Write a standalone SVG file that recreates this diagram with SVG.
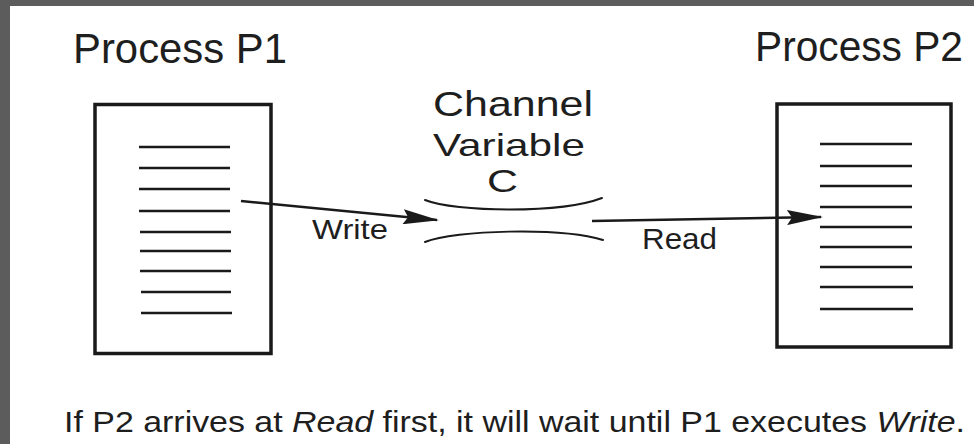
<svg xmlns="http://www.w3.org/2000/svg" width="974" height="444" viewBox="0 0 974 444">
  <defs>
    <style>
      .lbl { font-family: "Liberation Sans", Arial, Helvetica, sans-serif; fill: #1e1e1e; }
      .box { fill: #ffffff; stroke: #1a1a1a; stroke-width: 3.5; }
      .code { stroke: #1a1a1a; stroke-width: 2.4; fill: none; }
      .conn { stroke: #1a1a1a; stroke-width: 2.4; fill: none; }
      .pipe { stroke: #1a1a1a; stroke-width: 2; fill: none; stroke-linecap: round; }
    </style>
    <marker id="head" viewBox="0 0 36 15" refX="34" refY="7.5" markerWidth="36" markerHeight="15" markerUnits="userSpaceOnUse" orient="auto">
      <path d="M0,0 L36,7.5 L0,15 L5,7.5 Z" fill="#1a1a1a"/>
    </marker>
  </defs>

  <!-- frame -->
  <rect x="0" y="0" width="974" height="444" fill="#5c5c5c"/>
  <rect x="10" y="6" width="964" height="438" fill="#ffffff"/>

  <!-- process P1 -->
  <g id="process-p1">
    <text class="lbl" x="73" y="63" font-size="42" textLength="214" lengthAdjust="spacingAndGlyphs">Process P1</text>
    <rect class="box" x="95" y="104.5" width="176" height="249"/>
    <path class="code" d="M139,147H230 M139,168H230 M139,189H230 M139,211H230 M140,232H231 M140,251H231 M140,271H231 M141,292H231 M141,313H232"/>
  </g>

  <!-- channel variable C -->
  <g id="channel-c">
    <text class="lbl" x="433" y="116" font-size="35" textLength="160" lengthAdjust="spacingAndGlyphs">Channel</text>
    <text class="lbl" x="433" y="156" font-size="32" textLength="152" lengthAdjust="spacingAndGlyphs">Variable</text>
    <text class="lbl" x="487" y="192" font-size="32" textLength="31" lengthAdjust="spacingAndGlyphs">C</text>
    <path class="pipe" d="M425,200 C455,212 560,214 602,198"/>
    <path class="pipe" d="M425,242 C455,230 560,227 603,240"/>
  </g>

  <!-- process P2 -->
  <g id="process-p2">
    <text class="lbl" x="755" y="61" font-size="42" textLength="208" lengthAdjust="spacingAndGlyphs">Process P2</text>
    <rect class="box" x="777" y="104" width="174" height="243"/>
    <path class="code" d="M820,144H912 M820,166H912 M820,186H912 M820,207H912 M820,227H912 M820,247H912 M820,267H912 M820,287H913 M820,309H913"/>
  </g>

  <!-- connectors -->
  <g id="connectors">
    <path class="conn" d="M241,201 L437,220" marker-end="url(#head)"/>
    <text class="lbl" x="312" y="239" font-size="28" textLength="76" lengthAdjust="spacingAndGlyphs">Write</text>
    <path class="conn" d="M592,221 L821,217" marker-end="url(#head)"/>
    <text class="lbl" x="642" y="249" font-size="29" textLength="75" lengthAdjust="spacingAndGlyphs">Read</text>
  </g>

  <!-- caption -->
  <text class="lbl" x="64" y="432" font-size="30" textLength="901" lengthAdjust="spacingAndGlyphs">If P2 arrives at <tspan font-style="italic">Read</tspan>  first, it will wait until P1 executes <tspan font-style="italic">Write</tspan>.</text>
</svg>
